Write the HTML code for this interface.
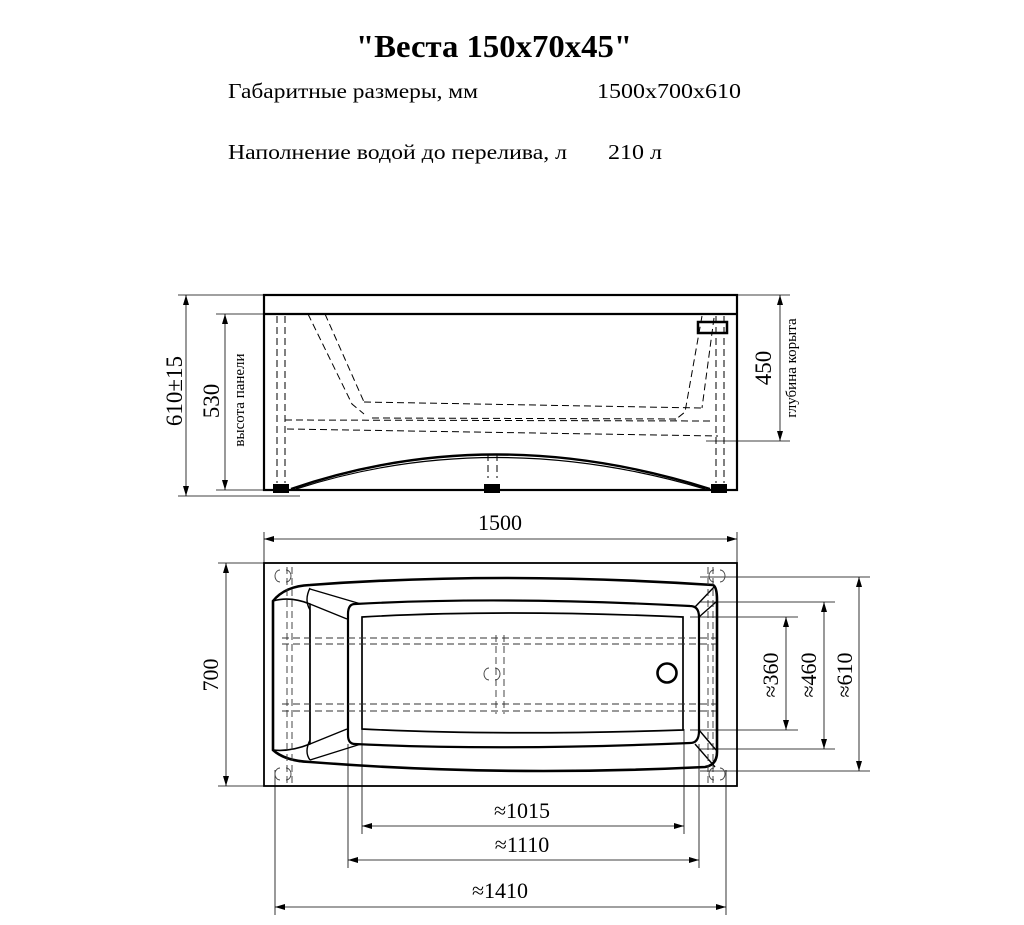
<!DOCTYPE html>
<html><head><meta charset="utf-8"><style>
html,body{margin:0;padding:0;background:#fff;}
svg{display:block;}
text{font-family:"Liberation Serif","DejaVu Serif",serif;fill:#000;}
</style></head><body>
<svg width="1024" height="925" viewBox="0 0 1024 925" xmlns="http://www.w3.org/2000/svg">
<defs>
<marker id="a" viewBox="0 0 10 6" refX="10" refY="3" markerWidth="10" markerHeight="6" orient="auto-start-reverse" markerUnits="userSpaceOnUse"><path d="M0,0 L10,3 L0,6 z" fill="#000"/></marker>
</defs>
<text x="494" y="57" font-size="32" font-weight="bold" text-anchor="middle" textLength="276" lengthAdjust="spacingAndGlyphs">"Веста 150x70x45"</text>
<text x="228" y="98" font-size="21" textLength="250" lengthAdjust="spacingAndGlyphs">Габаритные размеры, мм</text>
<text x="597" y="98" font-size="21" textLength="144" lengthAdjust="spacingAndGlyphs">1500x700x610</text>
<text x="228" y="159" font-size="21" textLength="339" lengthAdjust="spacingAndGlyphs">Наполнение водой до перелива, л</text>
<text x="608" y="159" font-size="21" textLength="54" lengthAdjust="spacingAndGlyphs">210 л</text>

<!-- SIDE VIEW -->
<g stroke="#000" fill="none">
<rect x="264" y="295" width="473" height="195" stroke-width="2.2"/>
<line x1="264" y1="314" x2="737" y2="314" stroke-width="2.2"/>
<g stroke-width="0.8">
<line x1="178" y1="295" x2="264" y2="295"/>
<line x1="178" y1="496" x2="300" y2="496"/>
<line x1="216" y1="314" x2="264" y2="314"/>
<line x1="216" y1="490" x2="264" y2="490"/>
<line x1="737" y1="295" x2="790" y2="295"/>
<line x1="706" y1="441" x2="790" y2="441"/>
<line x1="186" y1="295" x2="186" y2="496" marker-start="url(#a)" marker-end="url(#a)"/>
<line x1="225" y1="314" x2="225" y2="490" marker-start="url(#a)" marker-end="url(#a)"/>
<line x1="780" y1="295" x2="780" y2="441" marker-start="url(#a)" marker-end="url(#a)"/>
</g>
<g stroke-width="1" stroke-dasharray="7,4">
<line x1="277" y1="316" x2="277" y2="483"/><line x1="285" y1="316" x2="285" y2="483"/>
<line x1="716" y1="316" x2="716" y2="483"/><line x1="724" y1="316" x2="724" y2="483"/>
<line x1="488" y1="454" x2="488" y2="478"/><line x1="497" y1="454" x2="497" y2="478"/>
<path d="M308,314 L352,404 L364,414"/>
<path d="M325,314 L364,402"/>
<path d="M364,402 L702,408"/>
<path d="M372,418 L680,419"/>
<path d="M285,420 L713,421"/>
<path d="M287,429 L718,436"/>
<path d="M702,316 L685,412 L675,420"/>
<path d="M714,318 L702,408"/>
</g>
<g fill="#000" stroke="none">
<rect x="273" y="484" width="16" height="9"/><rect x="484" y="484" width="16" height="9"/><rect x="711" y="484" width="16" height="9"/>
</g>
<rect x="698" y="322" width="29" height="11" stroke-width="2.5"/>
<path d="M291,489 Q492,420 710,489" stroke-width="2.4"/>
<path d="M296,489 Q492,426 705,489" stroke-width="1.2"/>
</g>
<text transform="translate(182,391) rotate(-90)" font-size="23" text-anchor="middle">610±15</text>
<text transform="translate(219,401) rotate(-90)" font-size="23" text-anchor="middle">530</text>
<text transform="translate(244,400) rotate(-90)" font-size="15" text-anchor="middle">высота панели</text>
<text transform="translate(771,368) rotate(-90)" font-size="23" text-anchor="middle">450</text>
<text transform="translate(796,368) rotate(-90)" font-size="15" text-anchor="middle">глубина корыта</text>

<!-- TOP VIEW -->
<g stroke="#000" fill="none">
<rect x="264" y="563" width="473" height="223" stroke-width="1.8"/>
<g stroke-width="0.8">
<line x1="264" y1="532" x2="264" y2="563"/><line x1="737" y1="532" x2="737" y2="563"/>
<line x1="264" y1="539" x2="737" y2="539" marker-start="url(#a)" marker-end="url(#a)"/>
<line x1="218" y1="563" x2="264" y2="563"/><line x1="218" y1="786" x2="264" y2="786"/>
<line x1="226" y1="563" x2="226" y2="786" marker-start="url(#a)" marker-end="url(#a)"/>
<line x1="700" y1="577" x2="870" y2="577"/><line x1="700" y1="771" x2="870" y2="771"/>
<line x1="859" y1="577" x2="859" y2="771" marker-start="url(#a)" marker-end="url(#a)"/>
<line x1="700" y1="602" x2="835" y2="602"/><line x1="700" y1="749" x2="835" y2="749"/>
<line x1="824" y1="602" x2="824" y2="749" marker-start="url(#a)" marker-end="url(#a)"/>
<line x1="690" y1="617" x2="798" y2="617"/><line x1="690" y1="730" x2="798" y2="730"/>
<line x1="786" y1="617" x2="786" y2="730" marker-start="url(#a)" marker-end="url(#a)"/>
<line x1="362" y1="729" x2="362" y2="834"/><line x1="684" y1="729" x2="684" y2="834"/>
<line x1="362" y1="826" x2="684" y2="826" marker-start="url(#a)" marker-end="url(#a)"/>
<line x1="348" y1="744" x2="348" y2="868"/><line x1="699" y1="744" x2="699" y2="868"/>
<line x1="348" y1="860" x2="699" y2="860" marker-start="url(#a)" marker-end="url(#a)"/>
<line x1="275" y1="770" x2="275" y2="915"/><line x1="726" y1="770" x2="726" y2="915"/>
<line x1="275" y1="907" x2="726" y2="907" marker-start="url(#a)" marker-end="url(#a)"/>
</g>
<path d="M273,601 Q285,586 310,585 Q500,571 713,585 Q717,587 717,600 L717,752 Q717,765 705,767 Q500,777 310,762 Q285,761 273,750 Z" stroke-width="2.6"/>
<path d="M273,601 Q290,596 310,604 L310,744 Q290,752 273,750" stroke-width="1.6"/>
<path d="M310,588 Q304,600 310,610 L310,740 Q304,752 310,760" stroke-width="1.4"/>
<path d="M310,604 L347,619" stroke-width="1.4"/><path d="M310,744 L347,729" stroke-width="1.4"/>
<path d="M310,589 L361,604" stroke-width="1.4"/><path d="M310,760 L361,744" stroke-width="1.4"/>
<path d="M715,586 L695,607" stroke-width="1.4"/><path d="M716,602 L699,617" stroke-width="1.4"/>
<path d="M715,767 L695,744" stroke-width="1.4"/><path d="M716,750 L699,730" stroke-width="1.4"/>
<path d="M355,604 Q500,596 690,606 Q699,606 699,617 L699,731 Q699,743 690,743 Q500,751 355,744 Q348,744 348,735 L348,614 Q348,604 355,604 Z" stroke-width="2.2"/>
<path d="M362,617 Q500,609 683,617 L683,730 Q500,736 362,729 Z" stroke-width="1.7"/>
<circle cx="667" cy="673" r="9.5" stroke-width="2.6"/>
<g stroke-width="0.9" stroke-dasharray="7,4" stroke="#333">
<line x1="282" y1="638" x2="716" y2="638"/><line x1="282" y1="644" x2="716" y2="644"/>
<line x1="282" y1="704" x2="716" y2="704"/><line x1="282" y1="711" x2="716" y2="711"/>
<line x1="287" y1="567" x2="287" y2="783"/><line x1="292" y1="567" x2="292" y2="783"/>
<line x1="708" y1="567" x2="708" y2="783"/><line x1="713" y1="567" x2="713" y2="783"/>
<line x1="496" y1="635" x2="496" y2="714"/><line x1="504" y1="635" x2="504" y2="714"/>
</g>
<g stroke-width="0.9" stroke="#444">
<path d="M280,570 a5,6 0 0 0 0,12"/><path d="M286,582 a5,6 0 0 0 0,-12"/>
<path d="M714,570 a5,6 0 0 0 0,12"/><path d="M720,582 a5,6 0 0 0 0,-12"/>
<path d="M280,768 a5,6 0 0 0 0,12"/><path d="M286,780 a5,6 0 0 0 0,-12"/>
<path d="M714,768 a5,6 0 0 0 0,12"/><path d="M720,780 a5,6 0 0 0 0,-12"/>
<path d="M489,668 a5,6 0 0 0 0,12"/><path d="M495,680 a5,6 0 0 0 0,-12"/>
</g>
</g>
<text x="500" y="530" font-size="22" text-anchor="middle">1500</text>
<text transform="translate(218,675) rotate(-90)" font-size="22" text-anchor="middle">700</text>
<text transform="translate(852,675) rotate(-90)" font-size="22" text-anchor="middle">≈610</text>
<text transform="translate(816,675) rotate(-90)" font-size="22" text-anchor="middle">≈460</text>
<text transform="translate(778,675) rotate(-90)" font-size="22" text-anchor="middle">≈360</text>
<text x="522" y="818" font-size="22" text-anchor="middle">≈1015</text>
<text x="522" y="852" font-size="22" text-anchor="middle">≈1110</text>
<text x="500" y="898" font-size="22" text-anchor="middle">≈1410</text>
</svg>
</body></html>
